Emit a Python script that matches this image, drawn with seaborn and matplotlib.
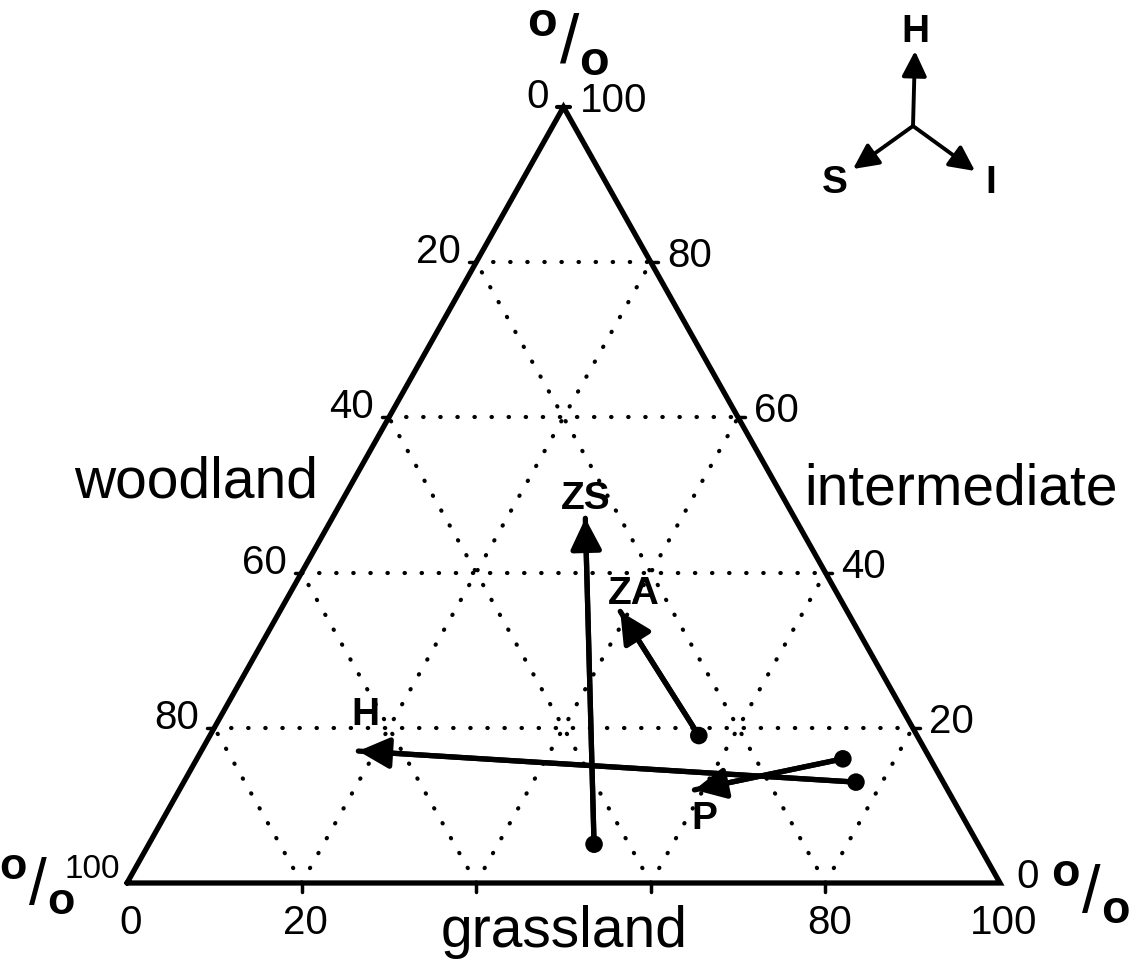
import matplotlib
matplotlib.use('Agg')
import matplotlib.pyplot as plt
import seaborn as sns
import pandas as pd
import numpy as np

# compositions (%): woodland / grassland / intermediate
sites = ['ZS', 'ZA', 'H', 'P']
wood_start = [44, 25, 10, 10]
grass_start = [51, 56, 77, 74]
inter_start = [5, 19, 13, 16]
wood_end = [24, 26, 65, 29]
grass_end = [29, 39, 18, 59]
inter_end = [47, 35, 17, 12]

grid_levels = [20, 40, 60, 80]
tick_values = [0, 20, 40, 60, 80, 100]
bottom_labels = ['0', '20', '', '', '80', '100']

W, H = 1133, 962

sns.set_style('white')
plt.rcParams['font.family'] = ['Liberation Sans', 'DejaVu Sans']
plt.rcParams['text.color'] = 'black'
plt.rcParams['mathtext.fontset'] = 'custom'
plt.rcParams['mathtext.rm'] = 'Liberation Sans'
plt.rcParams['mathtext.bf'] = 'Liberation Sans:bold'
narrow_font = ['Liberation Sans Narrow', 'Liberation Sans', 'DejaVu Sans']


def tern(w, g, i):
    # grassland corner bottom right, intermediate on top
    w, g, i = np.asarray(w, float), np.asarray(g, float), np.asarray(i, float)
    return g + i / 2.0, i


fig = plt.figure(figsize=(W / 100, H / 100), dpi=100)
ax = fig.add_axes([0, 0, 1, 1])
ax.set_xlim(-127 / 8.73, (W - 127) / 8.73)
ax.set_ylim((884 - H) / 7.76, 884 / 7.76)
ax.axis('off')


def ftext(x, y, s, **kw):
    fig.text(x / W, 1 - y / H, s, **kw)


# dotted grid
dot = dict(color='black', lw=3.0, linestyle=(0, (0.1, 4.0)), dash_capstyle='round')
for l in grid_levels:
    for a, b in [((100 - l, 0, l), (0, 100 - l, l)),
                 ((l, 100 - l, 0), (l, 0, 100 - l)),
                 ((100 - l, l, 0), (0, l, 100 - l))]:
        x0, y0 = tern(*a)
        x1, y1 = tern(*b)
        ax.plot([x0, x1], [y0, y1], **dot)

# triangle frame
cx, cy = tern([100, 0, 0, 100], [0, 100, 0, 0], [0, 0, 100, 0])
ax.plot(cx, cy, color='black', lw=3.8, solid_joinstyle='miter')
ax.plot([49.2, 50.8], [100, 100], color='black', lw=3)

# ticks and tick labels
tk = 29
for v, lab in zip(tick_values, bottom_labels):
    x, y = tern(100 - v, v, 0)
    if 0 < v < 100:
        ax.plot([x, x], [y, y - 1.1], color='black', lw=2.5)
    if lab:
        ax.annotate(lab, (x, y), xytext=(4, -20), textcoords='offset pixels',
                    ha='center', va='top', fontsize=tk)
for v in tick_values:
    # woodland along the left edge
    x, y = tern(v, 0, 100 - v)
    if 0 < v < 100:
        ax.plot([x, x - 0.8], [y, y], color='black', lw=2.5)
    if v == 100:
        ax.annotate(str(v), (x, y), xytext=(-7, 6), textcoords='offset pixels',
                    ha='right', va='baseline', fontsize=24)
    else:
        ax.annotate(str(v), (x, y), xytext=(-15, 0), textcoords='offset pixels',
                    ha='right', va='baseline', fontsize=tk)
    # intermediate along the right edge
    x, y = tern(0, 100 - v, v)
    if 0 < v < 100:
        ax.plot([x, x + 0.8], [y, y], color='black', lw=2.5)
    ax.annotate(str(v), (x, y), xytext=(16, -4), textcoords='offset pixels',
                ha='left', va='baseline', fontsize=tk)

# trajectories
xs, ys = tern(wood_start, grass_start, inter_start)
xe, ye = tern(wood_end, grass_end, inter_end)
traj = pd.DataFrame({'site': sites * 2,
                     'x': np.concatenate([xs, xe]),
                     'y': np.concatenate([ys, ye]),
                     'stage': ['start'] * 4 + ['end'] * 4})
sns.lineplot(data=traj, x='x', y='y', units='site', estimator=None, sort=False,
             color='black', lw=3.8, ax=ax, legend=False)
sns.scatterplot(data=traj[traj.stage == 'start'], x='x', y='y', color='black',
                s=160, edgecolor='none', ax=ax, legend=False)
label_off = {'ZS': (0, 10), 'ZA': (14, 8), 'H': (7, 27), 'P': (10, -38)}
for k, s in enumerate(sites):
    ax.annotate('', xy=(xe[k], ye[k]), xytext=(xs[k], ys[k]),
                arrowprops=dict(arrowstyle='-|>,head_length=0.9,head_width=0.45',
                                mutation_scale=21, color='black', lw=3.8,
                                shrinkA=0, shrinkB=0))
    ax.annotate(s, (xe[k], ye[k]), xytext=label_off[s], textcoords='offset pixels',
                ha='center', va='baseline', fontsize=28, fontweight='bold',
                family=narrow_font)

ax.set_xlabel('')
ax.set_ylabel('')

# axis names
ftext(196, 498, 'woodland', ha='center', va='baseline', fontsize=41)
ftext(961, 505, 'intermediate', ha='center', va='baseline', fontsize=41)
ftext(564, 947, 'grassland', ha='center', va='baseline', fontsize=41)

# percent signs, written as a raised o, a slash and a lowered o
pct = r'${}^{\mathbf{o}}/_{\mathbf{o}}$'
for x, y, fs in [(568, 44, 50), (37, 885, 46), (1090, 893, 48)]:
    ftext(x, y, pct, ha='center', va='center', fontsize=fs)

# key in the corner
ctr = (913, H - 127)
for tip in [(915, H - 52), (853, H - 170), (975, H - 172)]:
    ax.annotate('', xy=tip, xytext=ctr, xycoords='figure pixels',
                textcoords='figure pixels',
                arrowprops=dict(arrowstyle='-|>,head_length=0.85,head_width=0.42',
                                mutation_scale=18, color='black', lw=2.8,
                                shrinkA=0, shrinkB=0))
for x, y, s in [(915, 42, 'H'), (835, 193, 'S'), (991, 193, 'I')]:
    ftext(x, y, s, ha='center', va='baseline', fontsize=28, fontweight='bold',
          family=narrow_font)

fig.savefig('out.png', dpi=100, facecolor='white')
